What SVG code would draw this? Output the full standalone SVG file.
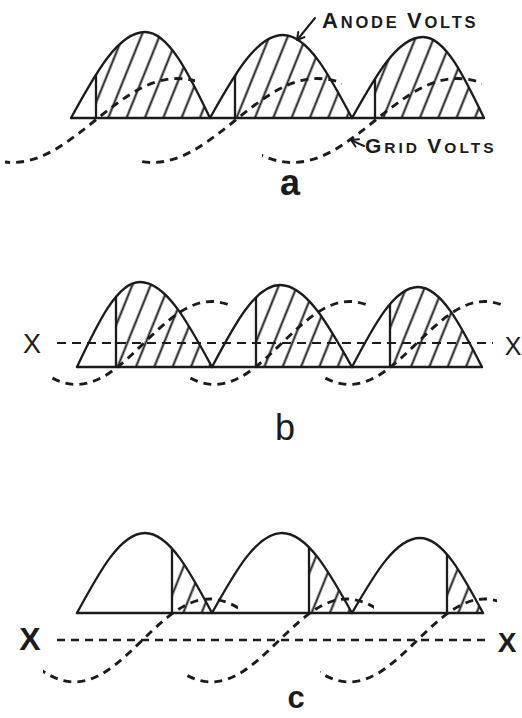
<svg xmlns="http://www.w3.org/2000/svg" xmlns:xlink="http://www.w3.org/1999/xlink" width="522" height="718" viewBox="0 0 522 718">
<defs>
<style>
.ln{fill:none;stroke:#1b1b1b;stroke-width:2.3;stroke-linejoin:round;stroke-linecap:round}
.gv{fill:none;stroke:#1b1b1b;stroke-width:2.9;stroke-dasharray:8 6}
.xx{fill:none;stroke:#1b1b1b;stroke-width:2;stroke-dasharray:9 6}
.xxc{fill:none;stroke:#1b1b1b;stroke-width:2.6;stroke-dasharray:8 6}
.lbl{font-family:"Liberation Sans",Arial,sans-serif;fill:#1b1b1b}
.ar{fill:none;stroke:#1b1b1b;stroke-width:2;stroke-linecap:round;stroke-linejoin:round}
</style>
<pattern id="hatch" patternUnits="userSpaceOnUse" width="17" height="20" patternTransform="rotate(22)">
<line x1="8.5" y1="-2" x2="8.5" y2="22" stroke="#1b1b1b" stroke-width="2"/>
</pattern>
<path id="A1" d="M71,118 C95.1,73.9 118.2,32 145,32 C168.5,32 188.8,73.9 210,118"/>
<path id="A2" d="M210,118 C233.8,75.5 256.6,35 283,35 C308,35 329.5,75.5 352,118"/>
<path id="A3" d="M352,118 C375.2,76.5 397.3,37 423,37 C445.1,37 464.1,76.5 484,118"/>
<path id="B1" d="M77,367 C97.5,323.5 117.2,282 140,282 C166.1,282 188.5,323.5 212,367"/>
<path id="B2" d="M212,367 C234.2,325 255.4,285 280,285 C306.1,285 328.5,325 352,367"/>
<path id="B3" d="M352,367 C373.5,326 394.1,287 418,287 C441.2,287 461.1,326 482,367"/>
<path id="C1" d="M77,613 C99.2,572 120.4,533 145,533 C169.2,533 190.2,572 212,613"/>
<path id="C2" d="M212,613 C234.8,572 256.7,533 282,533 C307.3,533 329.2,572 352,613"/>
<path id="C3" d="M352,613 C374.2,574.6 395.4,538 420,538 C442.8,538 462.5,574.6 483,613"/>
<path id="wA" d="M0,0 c26.9,21.5 52.6,42 82.5,42 c29.9,0 55.6,-20.5 82.5,-42 c26.9,-21.5 52.6,-42 82.5,-42 c29.9,0 55.6,20.5 82.5,42"/>
<path id="wB" d="M0,0 c22,21.3 43.1,41.5 67.5,41.5 c24.4,0 45.5,-20.2 67.5,-41.5 c22,-21.3 43.1,-41.5 67.5,-41.5 c24.4,0 45.5,20.2 67.5,41.5"/>
<clipPath id="cA1"><use href="#A1"/></clipPath>
<clipPath id="cA2"><use href="#A2"/></clipPath>
<clipPath id="cA3"><use href="#A3"/></clipPath>
<clipPath id="cB1"><use href="#B1"/></clipPath>
<clipPath id="cB2"><use href="#B2"/></clipPath>
<clipPath id="cB3"><use href="#B3"/></clipPath>
<clipPath id="cC1"><use href="#C1"/></clipPath>
<clipPath id="cC2"><use href="#C2"/></clipPath>
<clipPath id="cC3"><use href="#C3"/></clipPath>
<clipPath id="ga1"><rect x="5" y="0" width="190" height="718"/></clipPath>
<clipPath id="ga2"><rect x="137" y="0" width="205" height="718"/></clipPath>
<clipPath id="ga3"><rect x="262" y="0" width="220" height="718"/></clipPath>
<clipPath id="gb1"><rect x="50" y="0" width="180" height="718"/></clipPath>
<clipPath id="gb2"><rect x="190" y="0" width="177" height="718"/></clipPath>
<clipPath id="gb3"><rect x="322" y="0" width="181" height="718"/></clipPath>
<clipPath id="gc1"><rect x="43" y="0" width="195" height="718"/></clipPath>
<clipPath id="gc2"><rect x="185" y="0" width="189" height="718"/></clipPath>
<clipPath id="gc3"><rect x="320" y="0" width="177" height="718"/></clipPath>
</defs>
<rect width="522" height="718" fill="#ffffff"/>

<g id="panel-a">
<g id="a-hatch">
<g clip-path="url(#cA1)"><rect x="96" y="25" width="120" height="95" fill="url(#hatch)"/><line class="ln" x1="96" y1="118" x2="96" y2="20"/></g>
<g clip-path="url(#cA2)"><rect x="235" y="25" width="120" height="95" fill="url(#hatch)"/><line class="ln" x1="235" y1="118" x2="235" y2="20"/></g>
<g clip-path="url(#cA3)"><rect x="375" y="25" width="115" height="95" fill="url(#hatch)"/><line class="ln" x1="375" y1="118" x2="375" y2="20"/></g>
</g>
<g id="a-anode">
<use href="#A1" class="ln"/><use href="#A2" class="ln"/><use href="#A3" class="ln"/>
<line class="ln" x1="71" y1="118" x2="484" y2="118"/>
</g>
<g id="a-grid">
<g clip-path="url(#ga1)"><use href="#wA" x="-70" y="120.5" class="gv"/></g>
<g clip-path="url(#ga2)"><use href="#wA" x="70" y="120.5" class="gv"/></g>
<g clip-path="url(#ga3)"><use href="#wA" x="210" y="120.5" class="gv"/></g>
</g>
<g id="label-anode">
<text class="lbl" x="322" y="28" font-size="16.5" font-weight="bold" letter-spacing="2.8"><tspan font-size="22">A</tspan>NODE <tspan font-size="22">V</tspan>OLTS</text>
</g>
<g id="label-grid">
<text class="lbl" x="365" y="153" font-size="15.5" font-weight="bold" letter-spacing="3"><tspan font-size="21">G</tspan>RID <tspan font-size="21">V</tspan>OLTS</text>
</g>
<text id="label-a" class="lbl" x="290" y="195" font-size="36" font-weight="bold" text-anchor="middle">a</text>
</g>

<g id="panel-b">
<g id="b-hatch">
<g clip-path="url(#cB1)"><rect x="116" y="275" width="100" height="95" fill="url(#hatch)"/><line class="ln" x1="116" y1="367" x2="116" y2="270"/></g>
<g clip-path="url(#cB2)"><rect x="256" y="275" width="100" height="95" fill="url(#hatch)"/><line class="ln" x1="256" y1="367" x2="256" y2="270"/></g>
<g clip-path="url(#cB3)"><rect x="390" y="275" width="100" height="95" fill="url(#hatch)"/><line class="ln" x1="390" y1="367" x2="390" y2="270"/></g>
</g>
<g id="b-anode">
<use href="#B1" class="ln"/><use href="#B2" class="ln"/><use href="#B3" class="ln"/>
<line class="ln" x1="77" y1="367" x2="482" y2="367"/>
</g>
<line id="b-axis" class="xx" x1="57" y1="343" x2="493" y2="343"/>
<g id="b-grid">
<g clip-path="url(#gb1)"><use href="#wB" x="9" y="343" class="gv"/></g>
<g clip-path="url(#gb2)"><use href="#wB" x="147" y="343" class="gv"/></g>
<g clip-path="url(#gb3)"><use href="#wB" x="282" y="343" class="gv"/></g>
</g>
<text id="b-x-left" class="lbl" x="32" y="353" font-size="27" text-anchor="middle">X</text>
<text id="b-x-right" class="lbl" x="513" y="355" font-size="25" text-anchor="middle">X</text>
<text id="label-b" class="lbl" x="285" y="440" font-size="36" text-anchor="middle">b</text>
</g>

<g id="panel-c">
<g id="c-hatch">
<g clip-path="url(#cC1)"><rect x="172" y="525" width="45" height="92" fill="url(#hatch)"/><line class="ln" x1="172" y1="613" x2="172" y2="520"/></g>
<g clip-path="url(#cC2)"><rect x="309" y="525" width="48" height="92" fill="url(#hatch)"/><line class="ln" x1="309" y1="613" x2="309" y2="520"/></g>
<g clip-path="url(#cC3)"><rect x="447" y="525" width="40" height="92" fill="url(#hatch)"/><line class="ln" x1="447" y1="613" x2="447" y2="520"/></g>
</g>
<g id="c-anode">
<use href="#C1" class="ln"/><use href="#C2" class="ln"/><use href="#C3" class="ln"/>
<line class="ln" x1="77" y1="613" x2="483" y2="613"/>
</g>
<line id="c-axis" class="xxc" x1="57" y1="640" x2="490" y2="640"/>
<g id="c-grid">
<g clip-path="url(#gc1)"><use href="#wB" x="7" y="640.5" class="gv"/></g>
<g clip-path="url(#gc2)"><use href="#wB" x="144" y="640.5" class="gv"/></g>
<g clip-path="url(#gc3)"><use href="#wB" x="282" y="640.5" class="gv"/></g>
</g>
<text id="c-x-left" class="lbl" x="30" y="650" font-size="32" font-weight="bold" text-anchor="middle">X</text>
<text id="c-x-right" class="lbl" x="507" y="652" font-size="28" font-weight="bold" text-anchor="middle">X</text>
<text id="label-c" class="lbl" x="296" y="708" font-size="31" font-weight="bold" text-anchor="middle">c</text>
</g>

<g id="connectors">
<line class="ar" x1="315" y1="18" x2="297.5" y2="39.5"/>
<polyline class="ar" points="304.5,37.1 297,40 298.2,32.1"/>
<line class="ar" x1="364" y1="146" x2="351.5" y2="140.3"/>
<polyline class="ar" points="355.6,146.5 351,140 359,139.3"/>
</g>
</svg>
